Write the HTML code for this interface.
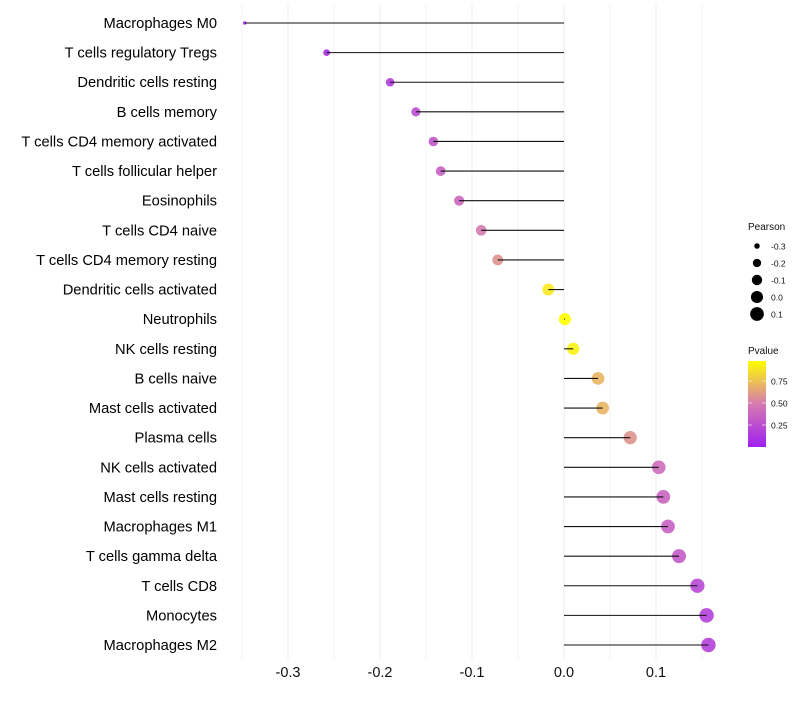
<!DOCTYPE html>
<html><head><meta charset="utf-8"><style>
body{margin:0;background:#fff;font-family:"Liberation Sans",sans-serif}
svg text{font-family:"Liberation Sans",sans-serif}
</style></head><body>
<svg id="chart" width="800" height="700"></svg>
<script>
const categories=["Macrophages M0","T cells regulatory  Tregs","Dendritic cells resting","B cells memory","T cells CD4 memory activated","T cells follicular helper","Eosinophils","T cells CD4 naive","T cells CD4 memory resting","Dendritic cells activated","Neutrophils","NK cells resting","B cells naive","Mast cells activated","Plasma cells","NK cells activated","Mast cells resting","Macrophages M1","T cells gamma delta","T cells CD8","Monocytes","Macrophages M2"];
const pearson=[-0.347,-0.258,-0.189,-0.161,-0.142,-0.134,-0.114,-0.090,-0.072,-0.017,0.001,0.010,0.037,0.042,0.072,0.103,0.108,0.113,0.125,0.145,0.155,0.157];
const pvalue=[0.02,0.08,0.15,0.25,0.3,0.35,0.4,0.5,0.6,0.92,1.0,0.95,0.72,0.72,0.6,0.42,0.38,0.36,0.32,0.22,0.18,0.18];
const xTicks=[-0.3,-0.2,-0.1,0.0,0.1];
const xTickLabels=["-0.3","-0.2","-0.1","0.0","0.1"];
const sizeLegend=[-0.3,-0.2,-0.1,0.0,0.1];
const colorTicks=[0.25,0.5,0.75];
const NS="http://www.w3.org/2000/svg";
const svg=document.getElementById('chart');
function mk(t,a,p){const e=document.createElementNS(NS,t);for(const k in a)e.setAttribute(k,a[k]);(p||svg).appendChild(e);return e;}
const x=v=>564+v*920;
const y=i=>23+i*(622/21);
const pmin=-0.347,pmax=0.157;
const r=v=>Math.sqrt(3+(v-pmin)/(pmax-pmin)*(52-3));
function lerp(a,b,t){return a.map((c,i)=>Math.round(c+(b[i]-c)*t));}
function col(p){const s=[[160,32,240],[214,122,177],[255,255,0]];const c=p<0.5?lerp(s[0],s[1],p/0.5):lerp(s[1],s[2],(p-0.5)/0.5);return `rgb(${c})`;}
for(let k=-7;k<=3;k++){const v=k*0.05;const g=mk('line',{x1:x(v),x2:x(v),y1:5,y2:660,stroke:'#ececec','stroke-width':k%2===0?1:0.6});
}
xTicks.forEach((v,i)=>{const t=mk('text',{x:x(v),y:677,'text-anchor':'middle','font-size':14.5,fill:'#111'});t.textContent=xTickLabels[i];
});
categories.forEach((c,i)=>{
const d=mk('circle',{cx:x(pearson[i]),cy:y(i),r:r(pearson[i]),fill:col(pvalue[i]),'fill-opacity':0.9});

const l=mk('line',{x1:x(0),x2:x(pearson[i]),y1:y(i),y2:y(i),stroke:'#111','stroke-width':1.1});

const t=mk('text',{x:217,y:y(i)+5,'text-anchor':'end','font-size':14.7,fill:'#000'});t.textContent=c;

});
const st=mk('text',{x:748,y:230,'font-size':10,fill:'#111'});st.textContent='Pearson';

sizeLegend.forEach((v,i)=>{const cy=246+i*17;
const c=mk('circle',{cx:757,cy:cy,r:r(v),fill:'#000'});
const t=mk('text',{x:771,y:cy+3.5,'font-size':8.5,fill:'#111'});t.textContent=v.toFixed(1);
});
const ct=mk('text',{x:748,y:354,'font-size':10,fill:'#111'});ct.textContent='Pvalue';

const defs=mk('defs',{});const lg=mk('linearGradient',{id:'pg',x1:0,y1:1,x2:0,y2:0},defs);
[[0,col(0)],[0.5,col(0.5)],[1,col(1)]].forEach(s=>mk('stop',{offset:s[0],'stop-color':s[1]},lg));
const cb=mk('rect',{x:748,y:361,width:18,height:86,fill:'url(#pg)'});
colorTicks.forEach(v=>{const yy=447-v*88;
mk('line',{x1:748,x2:752,y1:yy,y2:yy,stroke:'#fff','stroke-width':0.6});mk('line',{x1:762,x2:766,y1:yy,y2:yy,stroke:'#fff','stroke-width':0.6});
const t=mk('text',{x:771,y:yy+3.5,'font-size':8.5,fill:'#111'});t.textContent=v.toFixed(2);
});
</script>
</body></html>
